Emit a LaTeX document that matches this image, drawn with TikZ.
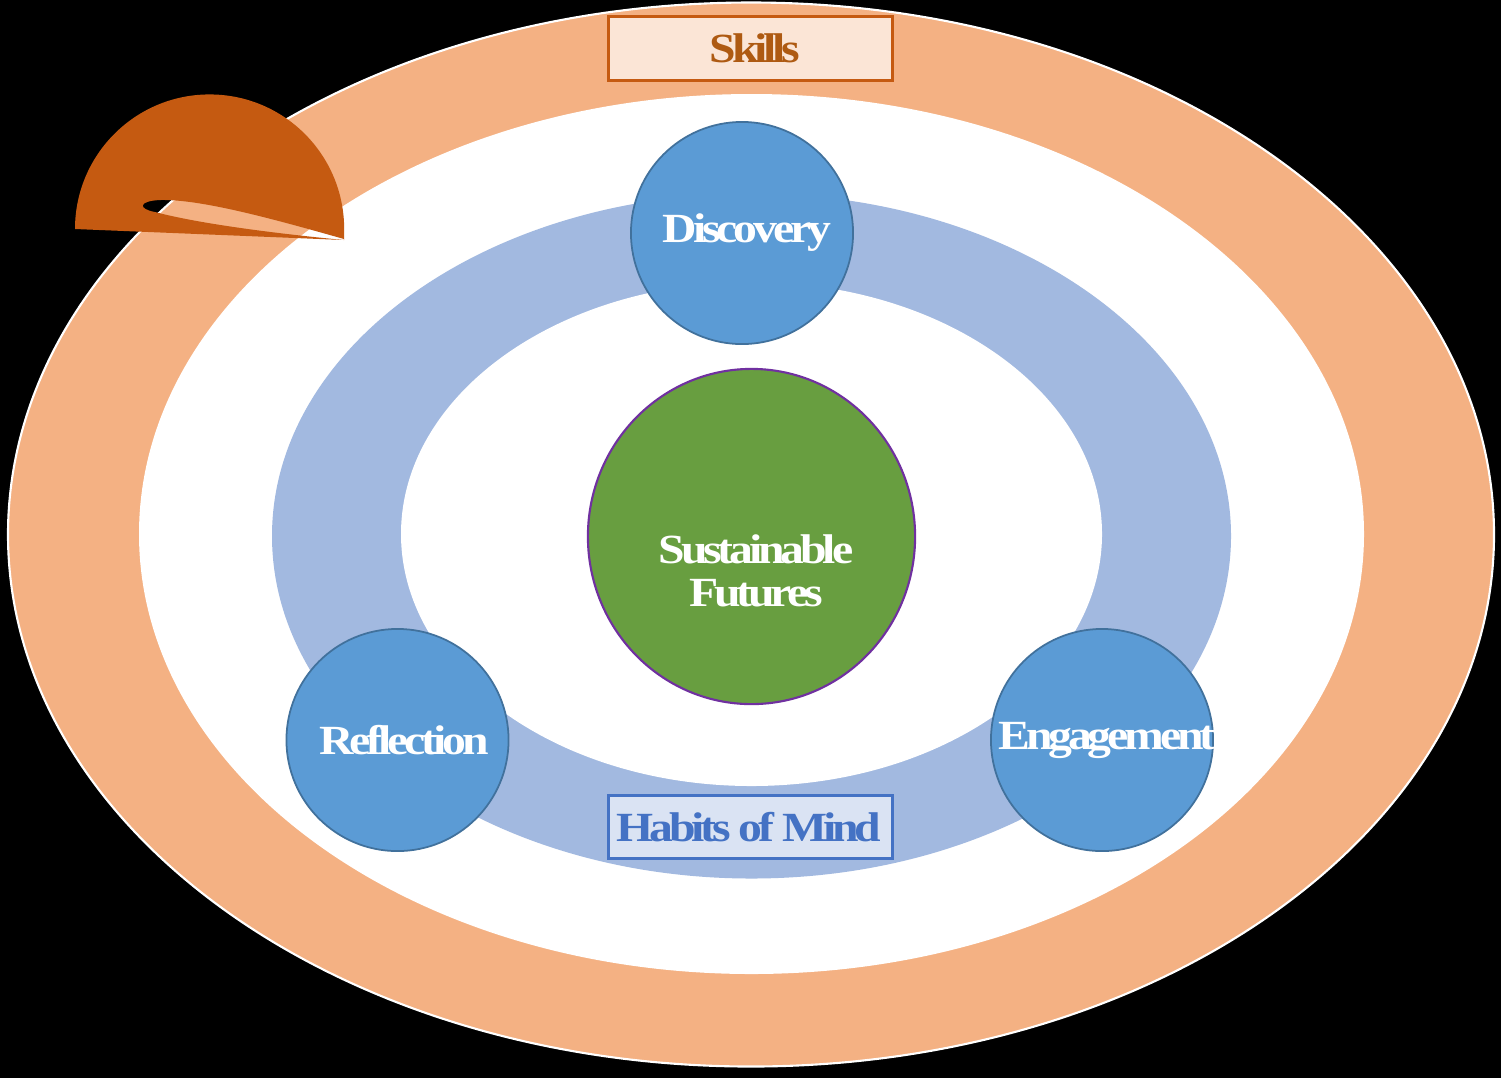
\documentclass[tikz,border=0pt]{standalone}
\usepackage{fontspec}
\usetikzlibrary{shapes.geometric}
\newfontfamily\lblfont{Liberation Serif}[LetterSpace=-10,FakeStretch=1.15]
\definecolor{ringorange}{HTML}{F4B183}
\definecolor{darkorange}{HTML}{C55A11}
\definecolor{skillsfill}{HTML}{FBE5D6}
\definecolor{skillstext}{HTML}{AE5A12}
\definecolor{ringblue}{HTML}{A2B9E0}
\definecolor{circblue}{HTML}{5B9BD5}
\definecolor{circedge}{HTML}{41719C}
\definecolor{sfgreen}{HTML}{689E40}
\definecolor{sfedge}{HTML}{7030A0}
\definecolor{habfill}{HTML}{DAE3F3}
\definecolor{habblue}{HTML}{4472C4}
\tikzset{
  lbl/.style={font=\lblfont\bfseries\fontsize{11.8}{12.3}\selectfont, text=white, align=center, inner sep=0pt},
  bluecirc/.style={circle, fill=circblue, draw=circedge, line width=0.5pt, minimum size=2.22cm, inner sep=0pt},
  tagbox/.style={rectangle, minimum width=2.83cm, minimum height=0.63cm, line width=0.85pt, inner sep=0pt}
}
\begin{document}
\begin{tikzpicture}[x=0.01cm,y=-0.01cm]
\fill[black] (0,0) rectangle (1501,1078);
\useasboundingbox (0,0) rectangle (1501,1078);
% outer orange ring
\filldraw[fill=ringorange, draw=white, line width=0.6pt] (751,534.5) ellipse [x radius=743, y radius=532];
\fill[white] (751.5,534) ellipse [x radius=612.5, y radius=440];
% blue ring
\fill[ringblue] (751.5,536) ellipse [x radius=479.5, y radius=342.5];
\fill[white] (751.5,534) ellipse [x radius=350.5, y radius=252];
% top-left dark orange shape with slit
\fill[darkorange, even odd rule]
  (75,229) arc[start angle=180, end angle=0, radius=1.345cm] -- (344,240) -- cycle
  (344,239) .. controls (270,218) and (200,199) .. (160,200) .. controls (138,201) and (138,209) .. (155,212) .. controls (200,224) and (280,234) .. (344,240) -- cycle;
% Skills box
\node[tagbox, fill=skillsfill, draw=darkorange] (skills) at (750.5,48.5) {};
\node[lbl, text=skillstext] (skillst) at (755,48) {Skills};
% Habits of Mind box
\node[tagbox, fill=habfill, draw=habblue] (habits) at (750.5,826.5) {};
\node[lbl, text=habblue] (habitst) at (749,827) {Habits of Mind};
% circles
\node[bluecirc] (disc) at (742,233) {};
\node[lbl] (disct) at (747,233) {Discovery};
\node[bluecirc] (refl) at (397.5,740) {};
\node[lbl] (reflt) at (404,740) {Reflection};
\node[bluecirc] (eng) at (1102,740) {};
\node[lbl] (engt) at (1107,740) {Engagement};
% centre
\node[ellipse, fill=sfgreen, draw=sfedge, line width=0.6pt, minimum width=3.27cm, minimum height=3.35cm, inner sep=0pt] (sf) at (751.5,536.5) {};
\node[lbl] (sft) at (756,571) {Sustainable\\Futures};
\end{tikzpicture}
\end{document}
